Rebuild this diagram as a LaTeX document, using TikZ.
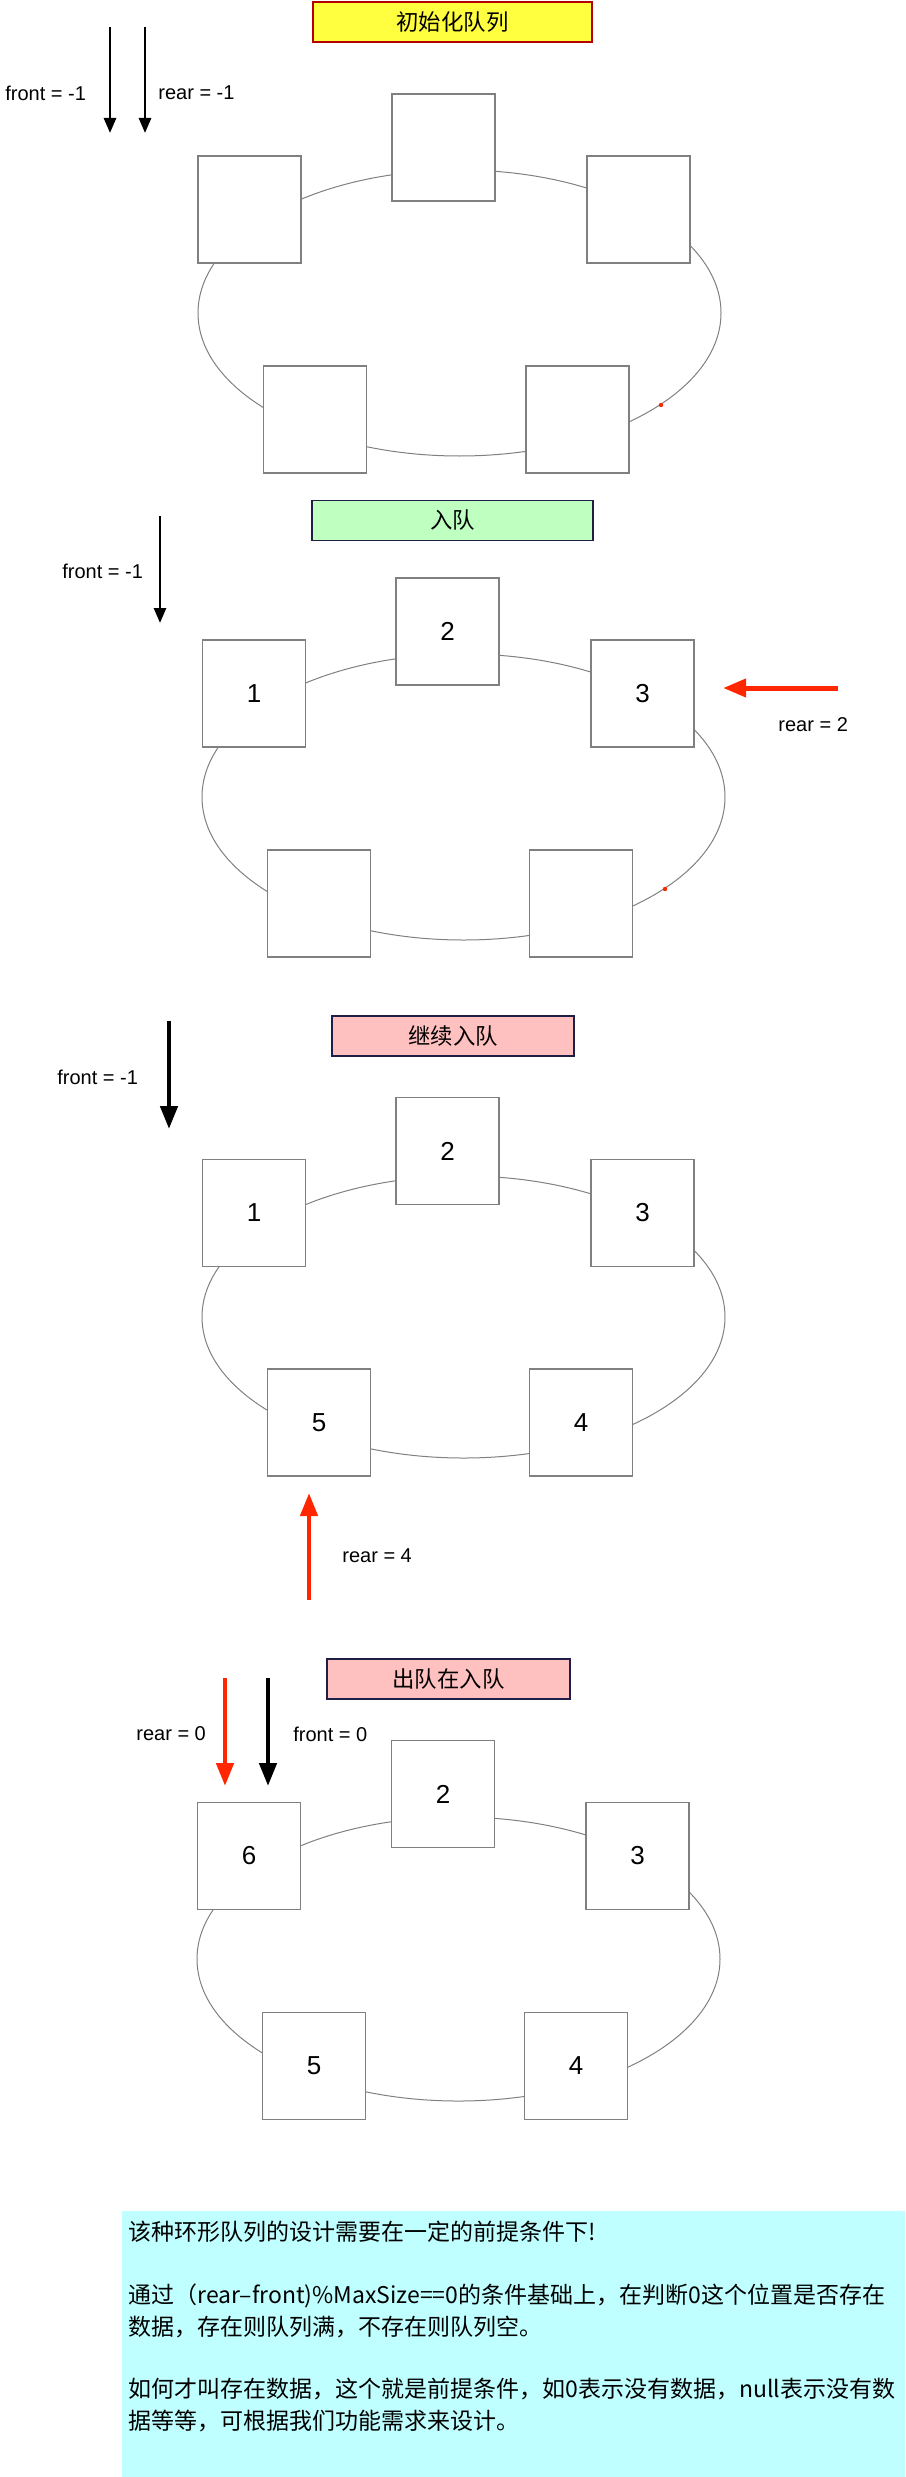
\documentclass[tikz,border=0pt]{standalone}
\usepackage{fontspec}
\setmainfont{Liberation Sans}
\newfontfamily\cjk{Noto Sans CJK SC}
\usepackage{tikz}
\usetikzlibrary{arrows.meta}
\definecolor{slotgray}{RGB}{128,128,128}
\definecolor{initfill}{RGB}{255,255,64}
\definecolor{initline}{RGB}{180,0,0}
\definecolor{enqfill}{RGB}{191,255,191}
\definecolor{pinkfill}{RGB}{255,192,192}
\definecolor{navyline}{RGB}{30,30,70}
\definecolor{notecyan}{RGB}{191,255,255}
\definecolor{ptrred}{RGB}{255,38,0}

\begin{document}
\begin{tikzpicture}[
  x=0.5pt, y=-0.5pt,
  slot/.style={draw=slotgray, fill=white, line width=0.6pt, inner sep=0pt,
               minimum width=51.5pt, minimum height=53.5pt,
               font=\fontsize{13}{15}\selectfont},
  ring/.style={draw=slotgray, line width=0.5pt},
  hdr/.style={draw=navyline, line width=0.6pt, inner sep=0pt,
              minimum height=20pt, font=\cjk\fontsize{11.2}{13}\selectfont},
  lbl/.style={anchor=west, inner sep=0pt, font=\fontsize{10}{12}\selectfont},
  ptr/.style={line width=1.4pt, -{Triangle[length=7.5pt,width=6pt]}},
  ptrbold/.style={line width=2.3pt, -{Triangle[length=11.5pt,width=8.5pt]}}
]
\useasboundingbox (0,0) rectangle (905,2477);

%% ---------- 1: INIT ----------
\node[hdr, draw=initline, fill=initfill, minimum width=139.5pt] (h1) at (452.5,22) {初始化队列};
\draw[ring] (459.5,313) ellipse [x radius=130.75pt, y radius=71.5pt];
\fill[ptrred] (661,405) circle (1.1pt);
\node[slot] (a1) at (249.5,209.5) {};
\node[slot] (a2) at (443.5,147.5) {};
\node[slot] (a3) at (638.5,209.5) {};
\node[slot] (a4) at (577.5,419.5) {};
\node[slot] (a5) at (315,419.5)   {};
\coordinate (af0) at (110,27);  \coordinate (af1) at (110,133);
\coordinate (ar0) at (145,27);  \coordinate (ar1) at (145,133);
\draw[ptr] (af0) -- (af1);
\draw[ptr] (ar0) -- (ar1);
\node[lbl] (afl) at (5,93)   {front = -1};
\node[lbl] (arl) at (158,93) {rear = -1};

%% ---------- 2: ENQUEUE ----------
\node[hdr, fill=enqfill, minimum width=140.5pt] (h2) at (452.5,520.5) {入队};
\draw[ring] (463.5,797) ellipse [x radius=130.75pt, y radius=71.5pt];
\fill[ptrred] (665,889) circle (1.1pt);
\node[slot] (b1) at (254,693.5)   {1};
\node[slot] (b2) at (447.5,631.5) {2};
\node[slot] (b3) at (642.5,693.5) {3};
\node[slot] (b4) at (581,903.5)   {};
\node[slot] (b5) at (319,903.5)   {};
\coordinate (bf0) at (160,516); \coordinate (bf1) at (160,623);
\coordinate (br0) at (838,688); \coordinate (br1) at (723,688);
\draw[ptr] (bf0) -- (bf1);
\draw[ptrred, line width=2.5pt, -{Triangle[length=11.5pt,width=8.8pt]}] (br0) -- (br1);
\node[lbl] (bfl) at (62,571)  {front = -1};
\node[lbl] (brl) at (778,725) {rear = 2};

%% ---------- 3: KEEP ENQUEUING ----------
\node[hdr, fill=pinkfill, minimum width=121pt] (h3) at (453,1036) {继续入队};
\draw[ring] (463.5,1317) ellipse [x radius=130.75pt, y radius=70.5pt];
\node[slot] (c1) at (254,1213)    {1};
\node[slot] (c2) at (447.5,1151)  {2};
\node[slot] (c3) at (642.5,1213)  {3};
\node[slot] (c4) at (581,1422.5)  {4};
\node[slot] (c5) at (319,1422.5)  {5};
\coordinate (cf0) at (169,1021); \coordinate (cf1) at (169,1129);
\coordinate (cr0) at (309,1600); \coordinate (cr1) at (309,1493);
\draw[ptrbold] (cf0) -- (cf1);
\draw[ptrbold, ptrred] (cr0) -- (cr1);
\node[lbl] (cfl) at (57,1077)  {front = -1};
\node[lbl] (crl) at (342,1556) {rear = 4};

%% ---------- 4: DEQUEUE THEN ENQUEUE ----------
\node[hdr, fill=pinkfill, minimum width=121.5pt] (h4) at (448.5,1679) {出队在入队};
\draw[ring] (458.5,1959) ellipse [x radius=130.75pt, y radius=71pt];
\node[slot] (d1) at (249,1856)   {6};
\node[slot] (d2) at (443,1794)   {2};
\node[slot] (d3) at (637.5,1856) {3};
\node[slot] (d4) at (576,2066)   {4};
\node[slot] (d5) at (314,2066)   {5};
\coordinate (dr0) at (225,1678); \coordinate (dr1) at (225,1786);
\coordinate (df0) at (268,1678); \coordinate (df1) at (268,1786);
\draw[ptrbold, ptrred] (dr0) -- (dr1);
\draw[ptrbold] (df0) -- (df1);
\node[lbl] (drl) at (136,1734) {rear = 0};
\node[lbl] (dfl) at (293,1734) {front = 0};

%% ---------- NOTE ----------
\fill[notecyan] (122,2211) rectangle (905,2477);
\node[anchor=north west, inner sep=0pt, align=left,
      font=\cjk\fontsize{11.5}{15.7}\selectfont] (note) at (128,2221)
  {该种环形队列的设计需要在一定的前提条件下!\\[15.7pt]
   通过（rear–front)\%MaxSize==0的条件基础上，在判断0这个位置是否存在\\
   数据，存在则队列满，不存在则队列空。\\[15.7pt]
   如何才叫存在数据，这个就是前提条件，如0表示没有数据，null表示没有数\\
   据等等，可根据我们功能需求来设计。};
\end{tikzpicture}
\end{document}
